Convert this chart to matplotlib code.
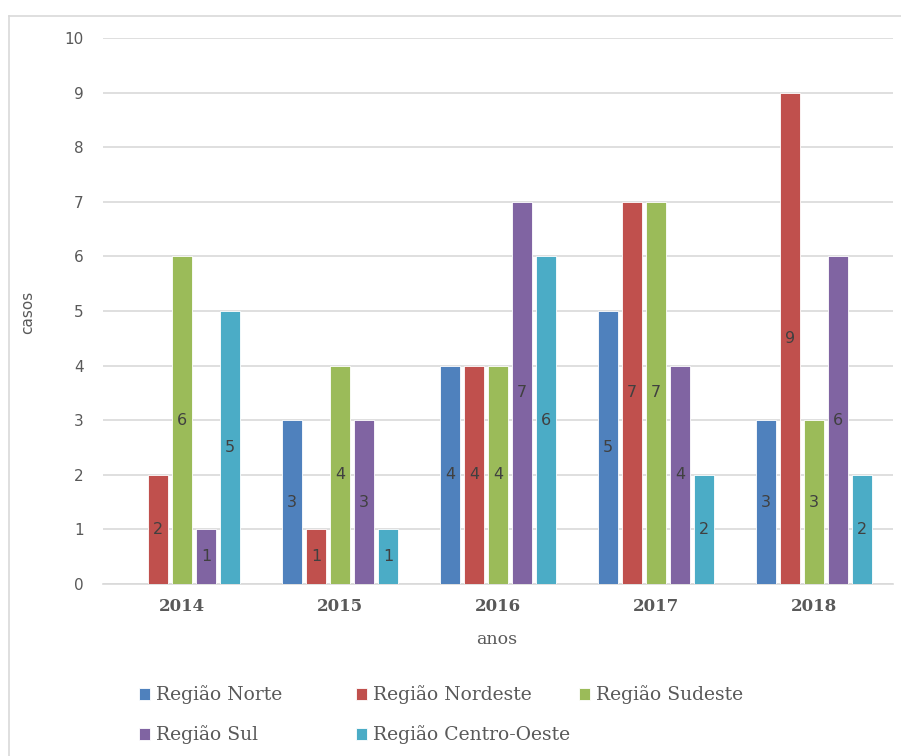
import matplotlib
matplotlib.use("Agg")
import matplotlib.pyplot as plt
from matplotlib.lines import Line2D
import numpy as np

anos = ["2014", "2015", "2016", "2017", "2018"]
regioes = ["Região Norte", "Região Nordeste", "Região Sudeste", "Região Sul", "Região Centro-Oeste"]
norte = [0, 3, 4, 5, 3]
nordeste = [2, 1, 4, 7, 9]
sudeste = [6, 4, 4, 7, 3]
sul = [1, 3, 7, 4, 6]
centro_oeste = [5, 1, 6, 2, 2]
series = [norte, nordeste, sudeste, sul, centro_oeste]
cores = ["#4F81BD", "#C0504D", "#9BBB59", "#8064A2", "#4BACC6"]

serif = ["DejaVu Serif"]
sans = ["DejaVu Sans"]

fig = plt.figure(figsize=(9.01, 7.56), dpi=100)
# chart frame (top and left edges inside the image)
bx, by = 8.5 / 901, 1 - 15.5 / 756
fig.lines.append(Line2D([bx, 1.0], [by, by], transform=fig.transFigure,
                        color="#d9d9d9", linewidth=1.2))
fig.lines.append(Line2D([bx, bx], [0.0, by], transform=fig.transFigure,
                        color="#d9d9d9", linewidth=1.2))

ax = fig.add_axes([103 / 901, 1 - 584 / 756, 790 / 901, (584 - 38) / 756])

x = np.arange(len(anos))
slot = 0.152
width = 0.122
handles = []
for i, (vals, nome, cor) in enumerate(zip(series, regioes, cores)):
    pos = x + (i - 2) * slot
    bars = ax.bar(pos, vals, width, color=cor, label=nome, edgecolor="white",
                  linewidth=0.6, zorder=3)
    handles.append(bars)
    for b, v in zip(bars, vals):
        if v > 0:
            ax.text(b.get_x() + b.get_width() / 2, v / 2, str(v), ha="center",
                    va="center", fontsize=11.5, color="#404040", family=sans, zorder=4)

ax.set_xlim(-0.5, len(anos) - 0.5)
ax.set_ylim(0, 10)
ax.set_yticks(range(0, 11))
ax.yaxis.grid(True, color="#d9d9d9", linewidth=1.2, zorder=0)
ax.tick_params(axis="y", length=0, pad=14, labelsize=11, labelcolor="#595959")
ax.tick_params(axis="x", length=0, pad=10)
ax.set_xticks(x)
ax.set_xticklabels(anos, family=serif, fontweight="bold", fontsize=12, color="#595959")
for lbl in ax.get_yticklabels():
    lbl.set_family(sans)
for side in ["top", "right", "left"]:
    ax.spines[side].set_visible(False)
ax.spines["bottom"].set_color("#d9d9d9")
ax.spines["bottom"].set_linewidth(1.2)

fig.text(28 / 901, 1 - 312 / 756, "casos", rotation=90, ha="center", va="center",
         fontsize=11, color="#595959", family=sans)
fig.text(497 / 901, 1 - 640 / 756, "anos", ha="center", va="center",
         fontsize=12.5, color="#595959", family=serif)

# legend entries laid out row by row in a fixed grid
leg_pos = [(139, 695), (356, 695), (579, 695), (139, 735), (356, 735)]
for h, nome, (lx, ly) in zip(handles, regioes, leg_pos):
    leg = fig.legend([h], [nome], loc="center left",
                     bbox_to_anchor=(lx / 901, 1 - ly / 756), frameon=False,
                     prop={"family": serif, "size": 13.5},
                     handlelength=0.6, handleheight=0.6, handletextpad=0.3,
                     borderpad=0, borderaxespad=0)
    for t in leg.get_texts():
        t.set_color("#595959")

fig.savefig("out.png", dpi=100)
